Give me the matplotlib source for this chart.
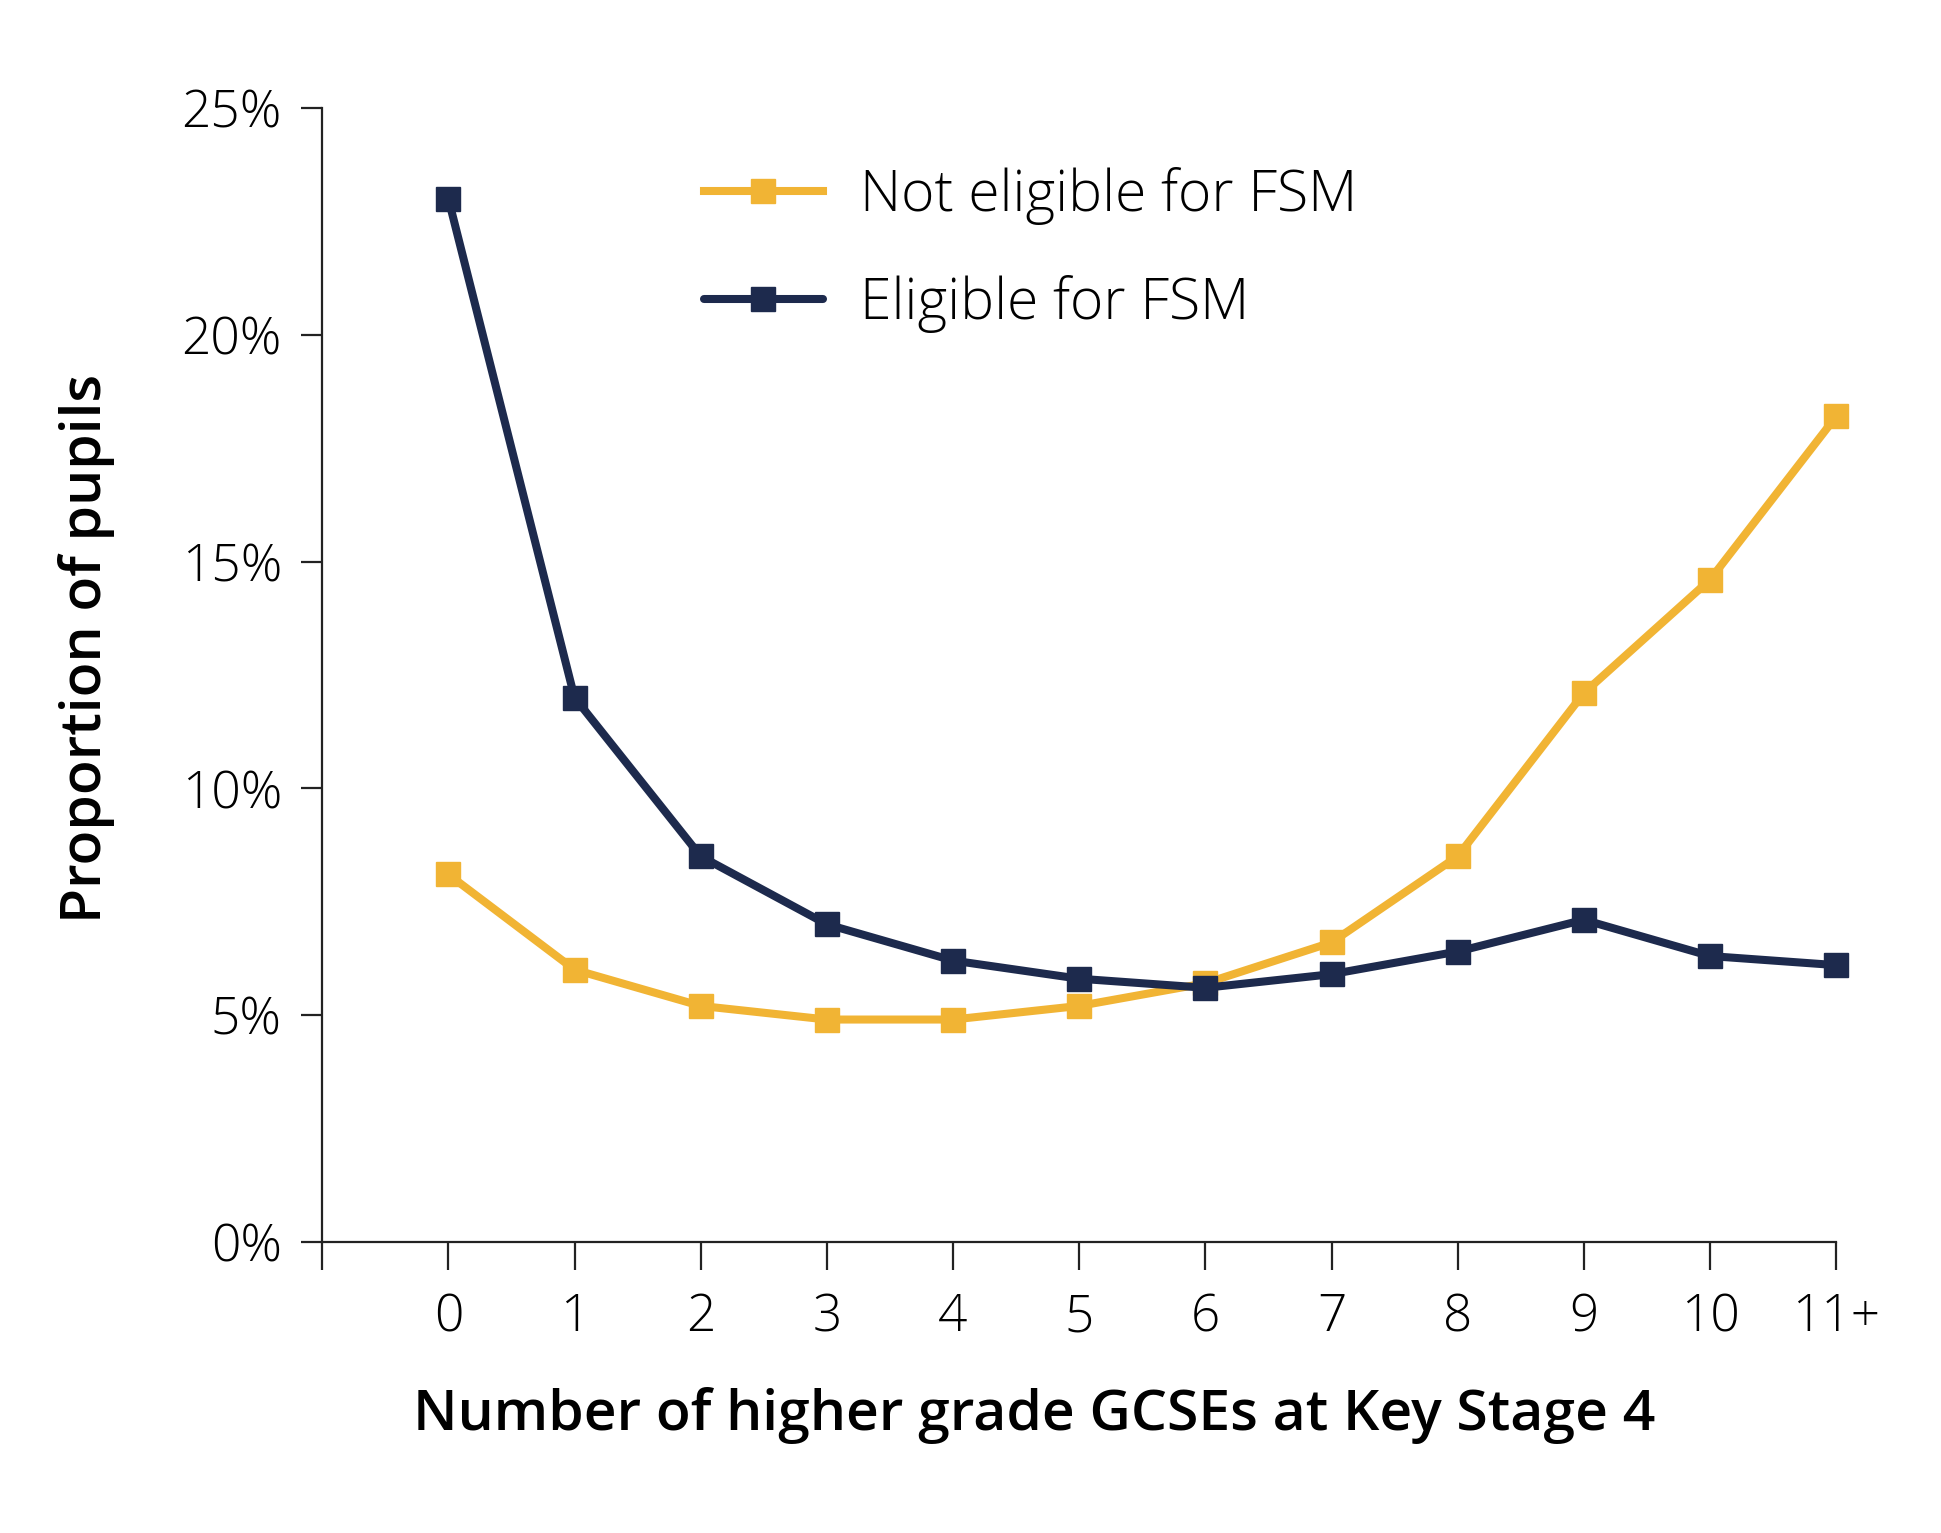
import numpy as np
import matplotlib
matplotlib.use("Agg")
import matplotlib.pyplot as plt

# data
categories = ['0', '1', '2', '3', '4', '5', '6', '7', '8', '9', '10', '11+']
not_eligible = [8.1, 6.0, 5.2, 4.9, 4.9, 5.2, 5.7, 6.6, 8.5, 12.1, 14.6, 18.2]
eligible = [23.0, 12.0, 8.5, 7.0, 6.2, 5.8, 5.6, 5.9, 6.4, 7.1, 6.3, 6.1]
yticks = [0, 5, 10, 15, 20, 25]

yellow = '#F1B434'
navy = '#1D2A4D'

plt.rcParams['font.family'] = ['Open Sans', 'DejaVu Sans']

fig = plt.figure(figsize=(19.41, 15.33), dpi=100)
ax = fig.add_axes([0.166, 0.190, 0.780, 0.7395])

x = np.arange(len(categories))
ax.plot(x, not_eligible, color=yellow, lw=5.8, marker='s', ms=17,
        label='Not eligible for FSM', zorder=3, clip_on=False)
ax.plot(x, eligible, color=navy, lw=5.8, marker='s', ms=17,
        label='Eligible for FSM', zorder=4, solid_capstyle='round', clip_on=False)

ax.set_xlim(-1, 11)
ax.set_ylim(0, 25)
ax.set_xticks(np.arange(-1, 12))
ax.set_xticklabels([''] + categories)
ax.set_yticks(yticks)
ax.set_yticklabels(['%d%%' % v for v in yticks])

for s in ['top', 'right']:
    ax.spines[s].set_visible(False)
for s in ['left', 'bottom']:
    ax.spines[s].set_linewidth(1.6)
    ax.spines[s].set_color('#222222')

ax.tick_params(axis='x', length=20, width=1.6, pad=16, labelsize=37,
               color='#222222', labelcolor='black')
ax.tick_params(axis='y', length=15, width=1.6, pad=14, labelsize=37,
               color='#222222', labelcolor='black')
for lab in ax.get_xticklabels() + ax.get_yticklabels():
    lab.set_fontweight('light')

ax.set_xlabel('Number of higher grade GCSEs at Key Stage 4', fontsize=41,
              fontweight='semibold')
ax.xaxis.set_label_coords(0.47, -0.128)
ax.set_ylabel('Proportion of pupils', fontsize=41, fontweight='semibold')
ax.yaxis.set_label_coords(-0.137, 0.523)

leg = ax.legend(loc='upper left', bbox_to_anchor=(0.218, 0.993), frameon=False,
                fontsize=41, handlelength=2.1, handletextpad=0.65,
                labelspacing=0.88)
for t in leg.get_texts():
    t.set_fontweight('light')

fig.savefig('out.png', dpi=100)
